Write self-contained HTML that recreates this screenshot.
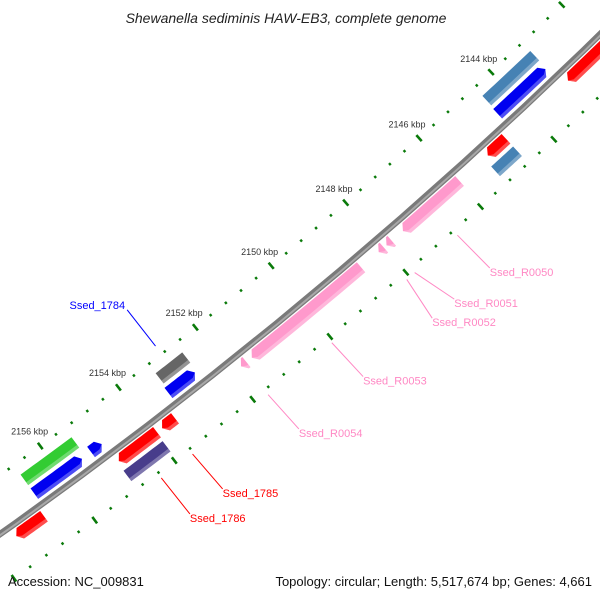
<!DOCTYPE html>
<html><head><meta charset="utf-8">
<style>
html,body{margin:0;padding:0;background:#fff;overflow:hidden;width:600px;height:600px;}
svg{display:block;font-family:"Liberation Sans",sans-serif;overflow:hidden;}
</style></head>
<body>
<svg id="map" width="600" height="600" viewBox="0 0 600 600" xmlns="http://www.w3.org/2000/svg">
<rect x="0" y="0" width="600" height="600" fill="#fff"/>
<g id="layer"></g>
<text x="286" y="23" text-anchor="middle" font-size="14" font-style="italic" fill="#222">Shewanella sediminis HAW-EB3, complete genome</text>
<text x="8" y="586" font-size="13" fill="#111">Accession: NC_009831</text>
<text x="592" y="586" text-anchor="end" font-size="13" fill="#111">Topology: circular; Length: 5,517,674 bp; Genes: 4,661</text>
</svg>
<script>
// feature data (kbp)
var featStart = [2143.15, 2152.58, 2154.97, 2155.47, 2143.12, 2152.53, 2155.38, 2141.3, 2144.7, 2145.97, 2147.80, 2148.01, 2148.62, 2151.63, 2153.47, 2153.93, 2156.78, 2144.7, 2153.95];
var featEnd   = [2144.48, 2153.26, 2155.24, 2156.67, 2144.46, 2153.22, 2156.67, 2142.98, 2145.2, 2147.5, 2147.94, 2148.15, 2151.49, 2151.77, 2153.8, 2154.9, 2157.47, 2145.3, 2154.94];
var featRing  = [-1, -1, -1, -1, -2, -2, -2, 1, 1, 1, 1, 1, 1, 1, 1, 1, 1, 2, 2];
var featColor = ["#0000f0","#0000f0","#0000f0","#0000f0","#4682b4","#666666","#33cc33","#ff0000","#ff0000","#ff99cc","#ff99cc","#ff99cc","#ff99cc","#ff99cc","#ff0000","#ff0000","#ff0000","#4682b4","#483d8b"];
var featDir   = ["rev","rev","rev","rev","none","none","none","fwd","fwd","fwd","fwd","fwd","fwd","fwd","fwd","fwd","fwd","none","none"];
var featNames = ["blue-gene-2144","blue-gene-2153","blue-gene-2155","blue-gene-2156","steelblue-gene-2144","gray-gene-ssed-1784","green-gene-2156","red-gene-2142","red-gene-2145","pink-rna-ssed-r0050","pink-rna-ssed-r0051","pink-rna-ssed-r0052","pink-rna-ssed-r0053","pink-rna-ssed-r0054","red-gene-ssed-1785","red-gene-ssed-1786","red-gene-2157","steelblue-gene-2145","purple-gene-2154"];
// labels
var labelText = ["Ssed_R0050","Ssed_R0051","Ssed_R0052","Ssed_R0053","Ssed_R0054","Ssed_1785","Ssed_1786","Ssed_1784"];
var labelKbp  = [2146.73, 2147.87, 2148.08, 2150.05, 2151.70, 2153.63, 2154.42, 2152.88];
var labelEndKbp = [2146.68, 2147.62, 2148.20, 2150.00, 2151.65, 2153.58, 2154.40, 2152.88];
var labelSide = [1,1,1,1,1,1,1,-1];
var labelColor= ["#ff88c4","#ff88c4","#ff88c4","#ff88c4","#ff88c4","#ff0000","#ff0000","#0000ff"];
// ticks
var tickStart = 2140, tickEnd = 2158, tickStep = 0.4;
var majorLabels = [2144, 2146, 2148, 2150, 2152, 2154, 2156];

var CX=-2890, CY=-3546, R=5000, A0=46.94, DEG=0.565;
function ang(k){return (A0+(k-2144)*DEG)*Math.PI/180;}
function P(k,r){var a=ang(k);return [CX+r*Math.cos(a), CY+r*Math.sin(a)];}
var NS="http://www.w3.org/2000/svg";
var layer=document.getElementById('layer');
function mk(tag,attrs){var e=document.createElementNS(NS,tag);for(var k in attrs)e.setAttribute(k,attrs[k]);layer.appendChild(e);return e;}
function arcPts(k1,k2,r){var pts=[],n=12;for(var i=0;i<=n;i++){pts.push(P(k1+(k2-k1)*i/n,r));}return pts;}
function ptsStr(p){return p.map(function(q){return q[0].toFixed(2)+","+q[1].toFixed(2);}).join(" ");}

// backbone
var e=mk('polyline',{points:ptsStr(arcPts(2139,2159,R)),fill:'none',stroke:'#7a7a7a','stroke-width':6.5});


e=mk('polyline',{points:ptsStr(arcPts(2139,2159,R+1)),fill:'none',stroke:'#a8a8a8','stroke-width':2});



// ticks
[-48,44].forEach(function(off){
  for(var k=tickStart;k<=tickEnd+1e-6;k+=tickStep){
    var kk=Math.round(k*10)/10;
    var major=Math.abs(kk/2-Math.round(kk/2))<1e-6;
    var h=major?4:1.3;
    var a=P(kk,R+off-h),b=P(kk,R+off+h);
    var t=mk('line',{x1:a[0],y1:a[1],x2:b[0],y2:b[1],stroke:'#0a7a0a','stroke-width':major?2.6:2.4});
    
    
  }
});
majorLabels.forEach(function(k){
  var p=P(k,R-66);
  var t=mk('text',{x:p[0],y:p[1]+3,'text-anchor':'middle','font-size':9,fill:'#333'});
  t.textContent=k+" kbp";
  
  
});

// features
var ringC={"-1":-13,"-2":-30,"1":11,"2":28}, HW=6.5, AL=0.1;
function shape(s,en,ro,ri,rc,dir){
  if(dir==="none") return arcPts(s,en,ro).concat(arcPts(s,en,ri).reverse());
  if(dir==="fwd"){var b=Math.max(s,en-AL);return arcPts(s,b,ro).concat([P(en,rc)]).concat(arcPts(s,b,ri).reverse());}
  var b2=Math.min(en,s+AL);return [P(s,rc)].concat(arcPts(b2,en,ro)).concat(arcPts(b2,en,ri).reverse());
}
for(var i=0;i<featStart.length;i++){
  var s=featStart[i],en=featEnd[i],rc=R+ringC[featRing[i]],dir=featDir[i];
  var f=mk('polygon',{points:ptsStr(shape(s,en,rc+HW,rc-HW,rc,dir)),fill:featColor[i]});
  
  
  var sh=mk('polygon',{points:ptsStr(shape(s,en,rc+HW,rc+HW-3.5,rc,dir)),fill:'#fff','fill-opacity':0.3});
  
  
}

// labels with leader lines
for(var j=0;j<labelText.length;j++){
  var side=labelSide[j],a1,a2;
  if(side>0){a1=P(labelKbp[j],R+50);a2=P(labelEndKbp[j],R+96);}
  else {a1=P(labelKbp[j],R-58);a2=P(labelEndKbp[j],R-104);}
  var ln=mk('line',{x1:a1[0],y1:a1[1],x2:a2[0],y2:a2[1],stroke:labelColor[j],'stroke-width':1});
  
  
  var tx=mk('text',{x:side>0?a2[0]:a2[0]-2,y:side>0?a2[1]+8:a2[1]-1,'text-anchor':side>0?'start':'end','font-size':11,fill:labelColor[j]});
  tx.textContent=labelText[j];
  
  
}
</script>
</body></html>
